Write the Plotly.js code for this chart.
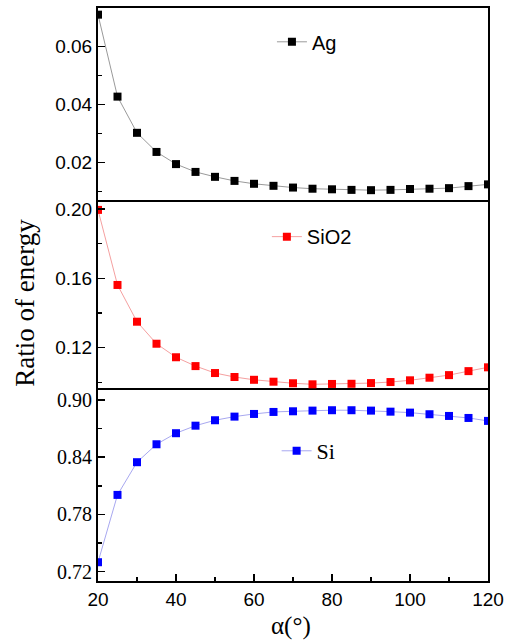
<!DOCTYPE html>
<html>
<head>
<meta charset="utf-8">
<script src="https://cdn.plot.ly/plotly-3.0.1.min.js"></script>
<style>
html,body{margin:0;padding:0;background:#fff;}
#chart{width:513px;height:642px;}
</style>
</head>
<body>
<div id="chart"></div>
<script>
// Incident angle alpha (degrees)
var angles = [20,25,30,35,40,45,50,55,60,65,70,75,80,85,90,95,100,105,110,115,120];

// Ratio of energy per material
var agValues = [0.0710,0.0427,0.0302,0.0236,0.0194,0.0167,0.0150,0.0136,0.0126,0.0119,0.0113,
                0.0109,0.0107,0.0105,0.0104,0.0105,0.0108,0.0109,0.0111,0.0118,0.0124];
var sio2Values = [0.1995,0.1562,0.1350,0.1223,0.1145,0.1094,0.1054,0.1031,0.1015,0.1004,0.0995,
                  0.0989,0.0991,0.0992,0.0996,0.1002,0.1012,0.1027,0.1042,0.1065,0.1087];
var siValues = [0.7299,0.8005,0.8348,0.8536,0.8652,0.8731,0.8788,0.8826,0.8854,0.8875,0.8882,
                0.8889,0.8893,0.8893,0.8889,0.8878,0.8868,0.8851,0.8833,0.8812,0.8781];

var seriesNames = ['Ag','SiO2','Si'];
var xTicks = [20,40,60,80,100,120];
var agTicks = [0.02,0.04,0.06];
var sio2Ticks = [0.12,0.16,0.20];
var siTicks = [0.72,0.78,0.84,0.90];

var sans = 'Liberation Sans, Arial, sans-serif';
var serif = 'Liberation Serif, Times New Roman, serif';

var traces = [
  {x: angles, y: agValues, name: seriesNames[0], xaxis:'x3', yaxis:'y3', legend:'legend',
   mode:'lines+markers', line:{color:'#9a9a9a', width:1},
   marker:{symbol:'square', size:8, color:'#000000'}},
  {x: angles, y: sio2Values, name: seriesNames[1], xaxis:'x2', yaxis:'y2', legend:'legend2',
   mode:'lines+markers', line:{color:'#f5a0a0', width:1},
   marker:{symbol:'square', size:8, color:'#ff0000'}},
  {x: angles, y: siValues, name: seriesNames[2], xaxis:'x', yaxis:'y', legend:'legend3',
   mode:'lines+markers', line:{color:'#a8a8f0', width:1},
   marker:{symbol:'square', size:8, color:'#0000ff'}}
];

function yax(domain, range, ticks, minorDtick, font) {
  return {
    domain: domain, range: range, tickvals: ticks,
    ticktext: ticks.map(function(v){ return v.toFixed(2); }),
    ticks:'inside', ticklen:7, tickwidth:1.5, tickcolor:'#000',
    showline:true, linecolor:'#000', linewidth:2, mirror:true,
    showgrid:false, zeroline:false,
    tickfont:font,
    minor:{ticks:'inside', dtick:minorDtick, tick0:0, ticklen:4, tickwidth:1.5, tickcolor:'#000', showgrid:false}
  };
}

function xax(anchor, showLabels, showLine) {
  var a = {
    anchor: anchor, domain:[0,1], range:[20,120],
    showline:showLine, linecolor:'#000', linewidth:2, mirror:showLine,
    showgrid:false, zeroline:false,
    tickvals: xTicks,
    tickfont:{family:sans, size:19, color:'#000'}
  };
  if (showLabels) {
    a.ticks = 'inside'; a.ticklen = 7; a.tickwidth = 1.5; a.tickcolor = '#000';
    a.minor = {ticks:'inside', dtick:10, tick0:0, ticklen:4, tickwidth:1.5, tickcolor:'#000', showgrid:false};
    a.showticklabels = true;
  } else {
    a.ticks = ''; a.showticklabels = false;
  }
  return a;
}

var layout = {
  width:513, height:642,
  margin:{l:98, r:25, t:8, b:61},
  paper_bgcolor:'#fff', plot_bgcolor:'#fff',
  showlegend:true,
  xaxis: xax('y', true, true),
  xaxis2: xax('y2', false, false),
  xaxis3: xax('y3', false, true),
  yaxis: yax([0,0.3333], [0.7102,0.9105], siTicks, 0.03, {family:serif, size:20, color:'#000'}),
  yaxis2: yax([0.3333,0.6649], [0.0956,0.2052], sio2Ticks, 0.02, {family:sans, size:19, color:'#000'}),
  yaxis3: yax([0.6649,1], [0.0070,0.0733], agTicks, 0.01, {family:sans, size:19, color:'#000'}),
  legend: {x:0.446, xanchor:'left', y:0.941, yanchor:'middle', bgcolor:'rgba(0,0,0,0)',
           font:{family:sans, size:20, color:'#000'}, itemwidth:30},
  legend2: {x:0.433, xanchor:'left', y:0.601, yanchor:'middle', bgcolor:'rgba(0,0,0,0)',
           font:{family:sans, size:20, color:'#000'}, itemwidth:30},
  legend3: {x:0.458, xanchor:'left', y:0.2269, yanchor:'middle', bgcolor:'rgba(0,0,0,0)',
           font:{family:serif, size:22, color:'#000'}, itemwidth:30},
  annotations: [
    {text:'Ratio of energy', xref:'paper', yref:'paper', x:-0.188, y:0.485,
     xanchor:'center', yanchor:'middle', textangle:-90, showarrow:false,
     font:{family:serif, size:27, color:'#000'}},
    {text:'α(°)', xref:'paper', yref:'paper', x:0.495, y:-0.079,
     xanchor:'center', yanchor:'middle', showarrow:false,
     font:{family:serif, size:25, color:'#000'}}
  ]
};

Plotly.newPlot('chart', traces, layout, {displayModeBar:false, staticPlot:true});
</script>
</body>
</html>
